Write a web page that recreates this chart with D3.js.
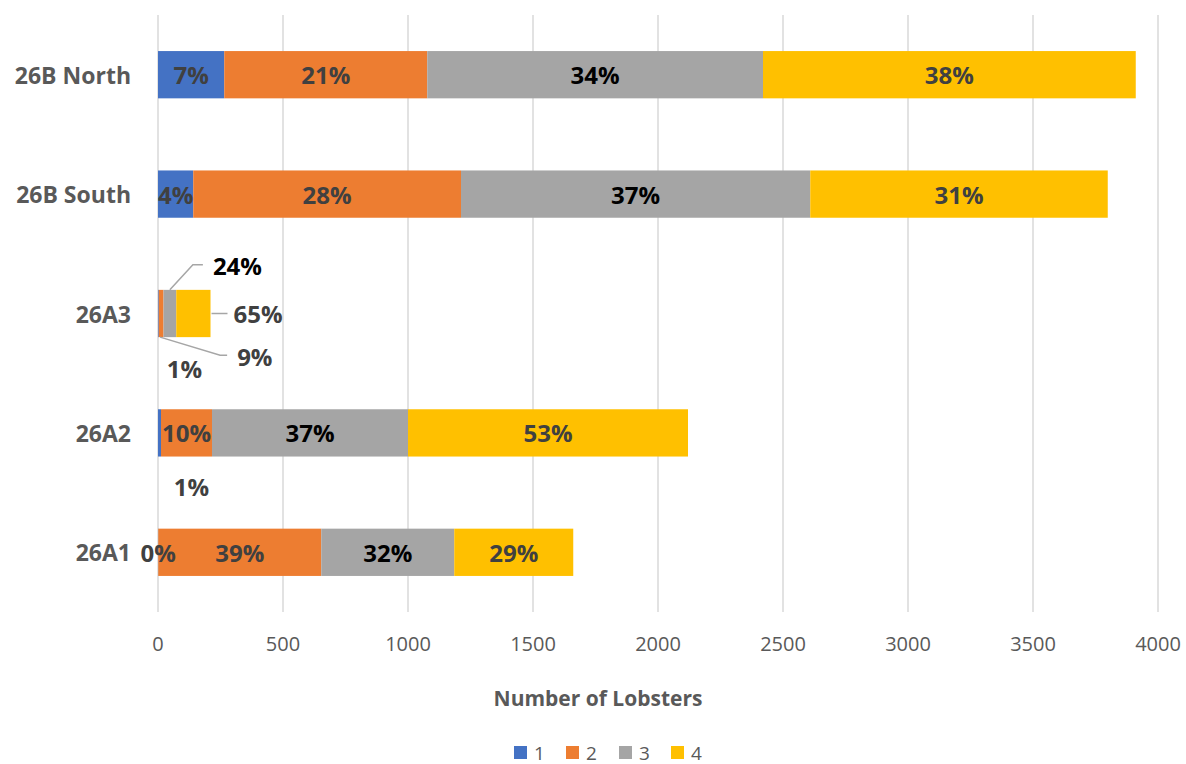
<!DOCTYPE html>
<html>
<head>
<meta charset="utf-8">
<script src="https://cdn.jsdelivr.net/npm/d3@7"></script>
<style>
  html, body { margin: 0; padding: 0; background: #fff; }
  svg { display: block; font-family: "Open Sans", "DejaVu Sans", sans-serif; }
</style>
</head>
<body>
<svg id="chart" width="1186" height="764"></svg>
<script>
// ---- data ----
const categories = ["26B North", "26B South", "26A3", "26A2", "26A1"];
const seriesNames = ["1", "2", "3", "4"];
const series1 = [265, 141, 3, 12, 1];
const series2 = [812, 1071, 19, 204, 652];
const series3 = [1343, 1397, 51, 784, 532];
const series4 = [1491, 1190, 137, 1120, 476];
const xTicks = [0, 500, 1000, 1500, 2000, 2500, 3000, 3500, 4000];
const xTitle = "Number of Lobsters";

// ---- styles ----
const colors = ["#4472C4", "#ED7D31", "#A5A5A5", "#FFC000"];
const labelColors = ["#404040", "#404040", "#000000", "#404040"];

const svg = d3.select("#chart");
const plotLeft = 158, plotRight = 1158, plotTop = 15, plotBottom = 612;

const x = d3.scaleLinear().domain([0, 4000]).range([plotLeft, plotRight]);
const y = d3.scaleBand().domain(categories).range([plotTop, plotBottom])
  .paddingInner(0.604).paddingOuter(0.302);

// table
const allSeries = [series1, series2, series3, series4];
const table = categories.map((c, i) => {
  const row = { cat: c };
  seriesNames.forEach((s, j) => row[s] = allSeries[j][i]);
  return row;
});
const stack = d3.stack().keys(seriesNames)(table);

// gridlines
svg.append("g").selectAll("line").data(xTicks).join("line")
  .attr("x1", d => x(d)).attr("x2", d => x(d))
  .attr("y1", plotTop).attr("y2", plotBottom)
  .attr("stroke", "#D9D9D9").attr("stroke-width", 1.5);

// tick labels
svg.append("g").selectAll("text").data(xTicks).join("text")
  .attr("x", d => x(d)).attr("y", 643)
  .attr("text-anchor", "middle").attr("dominant-baseline", "central")
  .attr("fill", "#595959").attr("font-size", 20)
  .text(d => d);

// bars
stack.forEach((layer, j) => {
  svg.append("g").selectAll("rect").data(layer).join("rect")
    .attr("x", d => x(d[0]))
    .attr("width", d => x(d[1]) - x(d[0]))
    .attr("y", d => y(d.data.cat))
    .attr("height", y.bandwidth())
    .attr("fill", colors[j]);
});

// category labels
svg.append("g").selectAll("text").data(categories).join("text")
  .attr("x", 131).attr("y", d => y(d) + y.bandwidth() / 2)
  .attr("text-anchor", "end").attr("dominant-baseline", "central")
  .attr("fill", "#595959").attr("font-size", 23).attr("font-weight", "bold")
  .text(d => d);

// data labels
const totals = table.map(r => d3.sum(seriesNames, s => r[s]));
// special placements (relative to segment geometry) for crowded bars
const special = {
  "26A3|3": g => ({ x: g.cx + 43, y: g.yt - 24, anchor: "start",
                    leader: [[g.cx, g.yt], [g.cx + 23, g.yt - 25], [g.cx + 33, g.yt - 25]] }),
  "26A3|4": g => ({ x: g.x1 + 23, y: g.cy, anchor: "start",
                    leader: [[g.x1 + 1, g.cy], [g.x1 + 17, g.cy]] }),
  "26A3|2": g => ({ x: g.cx + 76, y: g.yb + 19, anchor: "start",
                    leader: [[g.cx - 1, g.yb], [g.cx + 59, g.yb + 18], [g.cx + 66, g.yb + 18]] }),
  "26A3|1": g => ({ x: g.cx + 26, y: g.yb + 31, anchor: "middle" }),
  "26A2|1": g => ({ x: g.cx + 32, y: g.yb + 30, anchor: "middle" })
};
const lg = svg.append("g");
stack.forEach((layer, j) => {
  layer.forEach((d, i) => {
    const pct = Math.round(100 * (d[1] - d[0]) / totals[i]) + "%";
    const g = {
      x0: x(d[0]), x1: x(d[1]), cx: (x(d[0]) + x(d[1])) / 2,
      yt: y(d.data.cat), yb: y(d.data.cat) + y.bandwidth(),
      cy: y(d.data.cat) + y.bandwidth() / 2
    };
    const key = d.data.cat + "|" + seriesNames[j];
    const p = special[key] ? special[key](g) : { x: g.cx, y: g.cy, anchor: "middle" };
    if (p.leader) {
      lg.append("polyline")
        .attr("points", p.leader.map(q => q.join(",")).join(" "))
        .attr("fill", "none").attr("stroke", "#A6A6A6").attr("stroke-width", 1.5);
    }
    lg.append("text")
      .attr("x", p.x).attr("y", p.y)
      .attr("text-anchor", p.anchor).attr("dominant-baseline", "central")
      .attr("fill", labelColors[j]).attr("font-size", 24).attr("font-weight", "bold")
      .text(pct);
  });
});

// axis title
svg.append("text")
  .attr("x", 598).attr("y", 698)
  .attr("text-anchor", "middle").attr("dominant-baseline", "central")
  .attr("fill", "#595959").attr("font-size", 21).attr("font-weight", "bold")
  .text(xTitle);

// legend
const legendX = [514, 566, 619, 671];
const leg = svg.append("g").selectAll("g").data(seriesNames).join("g")
  .attr("transform", (d, i) => `translate(${legendX[i]},746)`);
leg.append("rect").attr("width", 13).attr("height", 13).attr("fill", (d, i) => colors[i]);
leg.append("text").attr("x", 20).attr("y", 6.5)
  .attr("dominant-baseline", "central")
  .attr("fill", "#595959").attr("font-size", 19)
  .text(d => d);
</script>
</body>
</html>
